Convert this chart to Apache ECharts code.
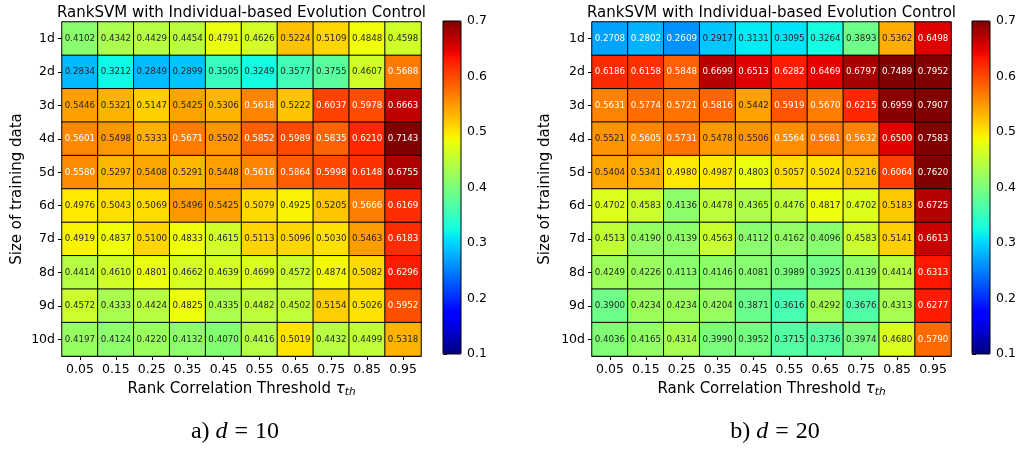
<!DOCTYPE html>
<html>
<head>
<meta charset="utf-8">
<script src="https://cdn.jsdelivr.net/npm/echarts@6/dist/echarts.min.js"></script>
<style>
  html, body { margin: 0; padding: 0; background: #fff; }
  #chart { width: 1022px; height: 450px; }
</style>
</head>
<body>
<div id="chart"></div>
<script>
// Rank correlation thresholds (columns) and training set sizes (rows)
const thresholds = ['0.05', '0.15', '0.25', '0.35', '0.45', '0.55', '0.65', '0.75', '0.85', '0.95'];
const sizes = ['1d', '2d', '3d', '4d', '5d', '6d', '7d', '8d', '9d', '10d'];
const colorbarTicks = [0.1, 0.2, 0.3, 0.4, 0.5, 0.6, 0.7];

// Results for dimension d = 10, one row per training set size
const valuesD10 = [
  [0.4102, 0.4342, 0.4429, 0.4454, 0.4791, 0.4626, 0.5224, 0.5109, 0.4848, 0.4598],
  [0.2834, 0.3212, 0.2849, 0.2899, 0.3505, 0.3249, 0.3577, 0.3755, 0.4607, 0.5688],
  [0.5446, 0.5321, 0.5147, 0.5425, 0.5306, 0.5618, 0.5222, 0.6037, 0.5978, 0.6663],
  [0.5601, 0.5498, 0.5333, 0.5671, 0.5502, 0.5852, 0.5989, 0.5835, 0.6210, 0.7143],
  [0.5580, 0.5297, 0.5408, 0.5291, 0.5448, 0.5616, 0.5864, 0.5998, 0.6148, 0.6755],
  [0.4976, 0.5043, 0.5069, 0.5496, 0.5425, 0.5079, 0.4925, 0.5205, 0.5666, 0.6169],
  [0.4919, 0.4837, 0.5100, 0.4833, 0.4615, 0.5113, 0.5096, 0.5030, 0.5463, 0.6183],
  [0.4414, 0.4610, 0.4801, 0.4662, 0.4639, 0.4699, 0.4572, 0.4874, 0.5082, 0.6296],
  [0.4572, 0.4333, 0.4424, 0.4825, 0.4335, 0.4482, 0.4502, 0.5154, 0.5026, 0.5952],
  [0.4197, 0.4124, 0.4220, 0.4132, 0.4070, 0.4416, 0.5019, 0.4432, 0.4499, 0.5318]
];

// Results for dimension d = 20
const valuesD20 = [
  [0.2708, 0.2802, 0.2609, 0.2917, 0.3131, 0.3095, 0.3264, 0.3893, 0.5362, 0.6498],
  [0.6186, 0.6158, 0.5848, 0.6699, 0.6513, 0.6282, 0.6469, 0.6797, 0.7489, 0.7952],
  [0.5631, 0.5774, 0.5721, 0.5816, 0.5442, 0.5919, 0.5670, 0.6215, 0.6959, 0.7907],
  [0.5521, 0.5605, 0.5731, 0.5478, 0.5506, 0.5564, 0.5681, 0.5632, 0.6500, 0.7583],
  [0.5404, 0.5341, 0.4980, 0.4987, 0.4803, 0.5057, 0.5024, 0.5216, 0.6064, 0.7620],
  [0.4702, 0.4583, 0.4136, 0.4478, 0.4365, 0.4476, 0.4817, 0.4702, 0.5183, 0.6725],
  [0.4513, 0.4190, 0.4139, 0.4563, 0.4112, 0.4162, 0.4096, 0.4583, 0.5141, 0.6613],
  [0.4249, 0.4226, 0.4113, 0.4146, 0.4081, 0.3989, 0.3925, 0.4139, 0.4414, 0.6313],
  [0.3900, 0.4234, 0.4234, 0.4204, 0.3871, 0.3616, 0.4292, 0.3676, 0.4313, 0.6277],
  [0.4036, 0.4165, 0.4314, 0.3990, 0.3952, 0.3715, 0.3736, 0.3974, 0.4680, 0.5790]
];

const vMin = 0.1, vMax = 0.7;

// Jet colormap, piecewise linear per channel
const jetR = [[0, 0], [0.35, 0], [0.66, 1], [0.89, 1], [1, 0.5]];
const jetG = [[0, 0], [0.125, 0], [0.375, 1], [0.64, 1], [0.91, 0], [1, 0]];
const jetB = [[0, 0.5], [0.11, 1], [0.34, 1], [0.65, 0], [1, 0]];
function channel(pts, t) {
  for (let i = 1; i < pts.length; i++) {
    if (t <= pts[i][0]) {
      const a = pts[i - 1], b = pts[i];
      return a[1] + (b[1] - a[1]) * (t - a[0]) / (b[0] - a[0]);
    }
  }
  return pts[pts.length - 1][1];
}
function jet(t) {
  const c = [jetR, jetG, jetB].map(p => Math.round(channel(p, t) * 255));
  return 'rgb(' + c.join(',') + ')';
}
const jetColors = [];
for (let i = 0; i <= 100; i++) jetColors.push(jet(i / 100));

const FONT = 'DejaVu Sans';

function cells(matrix) {
  const out = [];
  matrix.forEach((row, r) => row.forEach((v, c) => {
    const light = v > 0.555 || v < 0.282;
    out.push({ value: [c, r, v], label: { color: light ? '#ffffff' : '#262626' } });
  }));
  return out;
}

const panels = [
  { left: 62, cbLeft: 443, caption: '{r|a) }{i|d}{e|=}{r|10}', capX: 230, data: valuesD10, nameGap: 37 },
  { left: 592, cbLeft: 972, caption: '{r|b) }{i|d}{e|=}{r|20}', capX: 770, data: valuesD20, nameGap: 39 }
];
const gridW = 359, gridH = 334, gridTop = 22;

const option = {
  animation: false,
  backgroundColor: '#fff',
  textStyle: { fontFamily: FONT },
  title: [],
  grid: [],
  xAxis: [],
  yAxis: [],
  visualMap: [],
  series: []
};

const serif = { fontFamily: 'Liberation Serif', fontSize: 24, fontWeight: 'normal', color: '#000' };

panels.forEach((p, k) => {
  option.title.push({
    text: 'RankSVM with Individual-based Evolution Control',
    left: p.left + gridW / 2 - 5, top: 1, textAlign: 'center',
    textStyle: { fontFamily: FONT, fontSize: 15, fontWeight: 'normal', color: '#000' }
  });
  option.title.push({
    text: p.caption,
    left: p.capX, top: 415, textAlign: 'center',
    textStyle: {
      fontWeight: 'normal',
      rich: {
        r: serif,
        i: Object.assign({}, serif, { fontStyle: 'italic' }),
        e: Object.assign({}, serif, { padding: [0, 7, 0, 7] })
      }
    }
  });

  // heatmap grid
  option.grid.push({ left: p.left, top: gridTop, width: gridW, height: gridH, containLabel: false });
  // colorbar grid (carries the tick axis and frame)
  option.grid.push({
    left: p.cbLeft, top: 21, width: 18, height: 333,
    show: true, z: 10, backgroundColor: 'transparent', borderColor: '#000', borderWidth: 1
  });

  const gi = k * 2;
  option.xAxis.push({
    type: 'category', gridIndex: gi, data: thresholds,
    name: 'Rank Correlation Threshold {t|τ}{s|th}',
    nameLocation: 'middle', nameGap: 24,
    nameTextStyle: {
      fontFamily: FONT, fontSize: 15, color: '#000',
      rich: {
        t: { fontFamily: FONT, fontSize: 15, fontStyle: 'italic', color: '#000' },
        s: { fontFamily: FONT, fontSize: 10.5, fontStyle: 'italic', color: '#000', verticalAlign: 'bottom', padding: [7, 0, 0, 0] }
      }
    },
    axisLine: { show: true, lineStyle: { color: '#000', width: 1 } },
    axisTick: { show: true, alignWithLabel: true, length: 4, lineStyle: { color: '#000' } },
    axisLabel: { fontFamily: FONT, fontSize: 12.5, color: '#000', margin: 7, interval: 0 },
    splitLine: { show: false }
  });
  option.yAxis.push({
    type: 'category', gridIndex: gi, data: sizes, inverse: true,
    name: 'Size of training data', nameLocation: 'middle', nameGap: p.nameGap, nameRotate: 90,
    nameTextStyle: { fontFamily: FONT, fontSize: 15, color: '#000' },
    axisLine: { show: true, lineStyle: { color: '#000', width: 1 } },
    axisTick: { show: true, alignWithLabel: true, length: 4, lineStyle: { color: '#000' } },
    axisLabel: { fontFamily: FONT, fontSize: 12.5, color: '#000', margin: 7, interval: 0 },
    splitLine: { show: false }
  });

  // colorbar axes
  option.xAxis.push({ type: 'value', gridIndex: gi + 1, show: false, min: 0, max: 1 });
  option.yAxis.push({
    type: 'value', gridIndex: gi + 1, position: 'right', min: vMin, max: vMax, interval: 0.1,
    axisLine: { show: false },
    axisTick: { show: true, length: 4, inside: false, lineStyle: { color: '#000' } },
    axisLabel: { fontFamily: FONT, fontSize: 12.5, color: '#000', margin: 6, formatter: v => v.toFixed(1) },
    splitLine: { show: false }
  });

  option.visualMap.push({
    type: 'continuous', seriesIndex: k, min: vMin, max: vMax,
    calculable: false, hoverLink: false, realtime: false,
    orient: 'vertical', left: p.cbLeft, top: 21, itemWidth: 18, itemHeight: 333,
    padding: 0, text: null, showLabel: false,
    inRange: { color: jetColors },
    outOfRange: { color: jet(1) }
  });

  option.series.push({
    type: 'heatmap', xAxisIndex: gi, yAxisIndex: gi,
    data: cells(p.data),
    itemStyle: { borderColor: '#000', borderWidth: 1 },
    label: {
      show: true, fontFamily: FONT, fontSize: 8.7,
      formatter: prm => prm.value[2].toFixed(4)
    },
    emphasis: { disabled: true }
  });
});

const chart = echarts.init(document.getElementById('chart'), null, { renderer: 'canvas' });
chart.setOption(option);
</script>
</body>
</html>
